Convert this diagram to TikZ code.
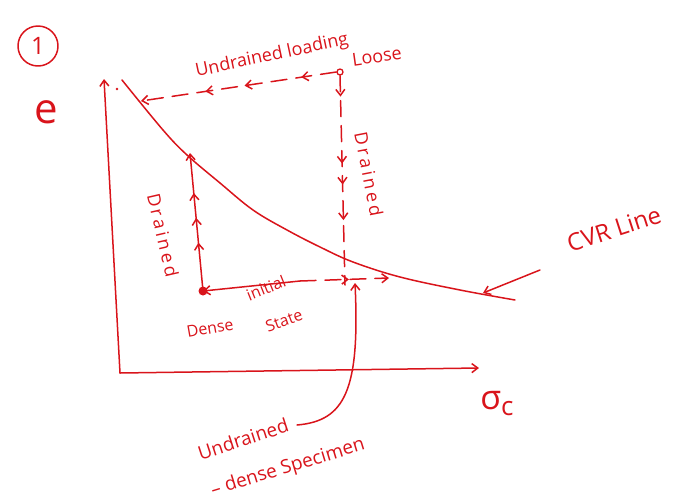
\documentclass[tikz,border=0pt]{standalone}
\usepackage{fontspec}
\setmainfont{Open Sans}
\usetikzlibrary{arrows.meta,decorations.markings}
\definecolor{penred}{HTML}{D9141B}
\begin{document}
\begin{tikzpicture}[x=1pt,y=-1pt,
  pen/.style={draw=penred, line width=1.5pt, line cap=round, line join=round},
  tip/.style={-{Straight Barb[length=6pt,width=9pt]}},
  dashy/.style={dash pattern=on 16pt off 9pt},
  lbl/.style={text=penred, inner sep=0pt},
  marks/.style={postaction={decorate}, decoration={markings,
     mark=at position #1 with {\arrow{Straight Barb[length=6pt,width=9pt]}}}},
  marks3/.style n args={3}{postaction={decorate}, decoration={markings,
     mark=at position #1 with {\arrow{Straight Barb[length=6pt,width=9pt]}},
     mark=at position #2 with {\arrow{Straight Barb[length=6pt,width=9pt]}},
     mark=at position #3 with {\arrow{Straight Barb[length=6pt,width=9pt]}}}},
  marks4/.style n args={4}{postaction={decorate}, decoration={markings,
     mark=at position #1 with {\arrow{Straight Barb[length=6pt,width=9pt]}},
     mark=at position #2 with {\arrow{Straight Barb[length=6pt,width=9pt]}},
     mark=at position #3 with {\arrow{Straight Barb[length=6pt,width=9pt]}},
     mark=at position #4 with {\arrow{Straight Barb[length=6pt,width=9pt]}}}}
]
\useasboundingbox (0,0) rectangle (686,501);

% number badge and axis labels
\node[pen, circle, minimum size=40pt, inner sep=0pt, text=penred, font=\fontsize{24}{24}\selectfont] (badge) at (38,46) {1};
\node[lbl, font=\fontsize{42}{42}\selectfont] (elbl) at (46,112) {e};
\node[lbl, font=\fontsize{34}{34}\selectfont] (siglbl) at (497,404) {σ\raisebox{-6pt}{\fontsize{26}{26}\selectfont c}};

% axes
\coordinate (O) at (120,373);
\coordinate (ytop) at (104,79);
\coordinate (xend) at (479,368);
\draw[pen,tip] (O) -- (ytop);
\draw[pen,tip] (O) -- (xend);
\fill[penred] (117,89) circle (1.4pt);

% CVR line
\draw[pen] plot[smooth, tension=0.6] coordinates {(122,80) (163,130) (187,155) (220,183) (253,210) (287,230) (320,247) (353,262) (400,277) (460,290) (515,300)};
\coordinate (cvrhit) at (483,293);
\coordinate (cvrtail) at (540,270);
\draw[pen,tip] (cvrtail) -- (cvrhit);
\node[lbl, rotate=18, font=\fontsize{24}{24}\selectfont] (cvrtxt) at (614,229) {CVR Line};

% loose state
\node[pen, circle, minimum size=6pt, inner sep=0pt, line width=1.3pt] (loose) at (340,72) {};
\node[lbl, rotate=8, font=\fontsize{18}{18}\selectfont, anchor=west] (loosetxt) at (352,60) {Loose};
\coordinate (ulend) at (141,101);
\draw[pen,dashy,tip,marks3={0.18}{0.47}{0.67}] (loose.west) -- (ulend);
\node[lbl, rotate=12, font=\fontsize{18}{18}\selectfont] (ultxt) at (272,56) {Undrained loading};
\coordinate (ldend) at (345,285);
\draw[pen,dashy,marks4={0.1}{0.42}{0.52}{0.69}] (loose.south) -- (ldend);
\node[lbl, rotate=-79, font=\fontsize{18}{18}\selectfont] (drainedR) at (369,174) {D\,r\,a\,i\,n\,e\,d};

% dense state
\coordinate (dense) at (203,291);
\fill[penred] (dense) circle (4.5pt);
\coordinate (dtop) at (190,153);
\draw[pen,tip,marks3={0.35}{0.53}{0.71}] (dense) -- (dtop);
\node[lbl, rotate=-77, font=\fontsize{18}{18}\selectfont] (drainedL) at (163,235) {D\,r\,a\,i\,n\,e\,d};
\node[lbl, rotate=10, font=\fontsize{16}{16}\selectfont] (densetxt) at (210,328) {Dense};
\node[lbl, rotate=22, font=\fontsize{16}{16}\selectfont] (inittxt) at (266,288) {initial};
\node[lbl, rotate=20, font=\fontsize{16}{16}\selectfont] (statetxt) at (284,321) {State};
\coordinate (hmid) at (300,281);
\coordinate (hend) at (389,278);
\draw[pen,{Straight Barb[length=6pt,width=9pt]}-] (dense) -- (hmid);
\draw[pen,dashy,tip,marks={0.55}] (hmid) -- (hend);

% undrained dense specimen
\node[lbl, rotate=18, font=\fontsize{19}{19}\selectfont] (udtxt) at (243,439) {Undrained};
\node[lbl, rotate=17, font=\fontsize{19}{19}\selectfont] (udtxt2) at (288,468) {– dense Specimen};
\coordinate (udstart) at (297,425);
\coordinate (udend) at (355,283);
\draw[pen,tip] (udstart) .. controls (345,421) and (360,390) .. (udend);
\end{tikzpicture}
\end{document}
